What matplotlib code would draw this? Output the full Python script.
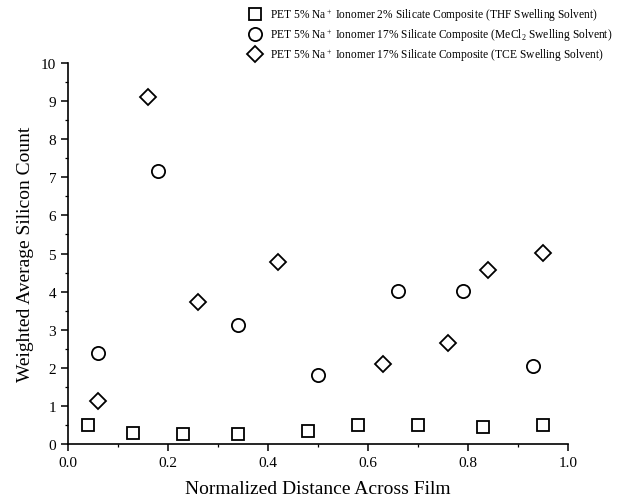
import matplotlib
matplotlib.use("Agg")
import matplotlib.pyplot as plt
from matplotlib.ticker import MultipleLocator

plt.rcParams['font.family'] = ['Liberation Serif', 'DejaVu Serif']
plt.rcParams['mathtext.fontset'] = 'custom'
plt.rcParams['mathtext.rm'] = 'Liberation Serif'
plt.rcParams['mathtext.it'] = 'Liberation Serif:italic'

thf_x = [0.04, 0.13, 0.23, 0.34, 0.48, 0.58, 0.70, 0.83, 0.95]
thf_y = [0.51, 0.29, 0.27, 0.25, 0.35, 0.50, 0.50, 0.44, 0.50]
mecl_x = [0.06, 0.18, 0.34, 0.50, 0.66, 0.79, 0.93]
mecl_y = [2.39, 7.16, 3.13, 1.82, 4.01, 4.01, 2.06]
tce_x = [0.06, 0.16, 0.26, 0.42, 0.63, 0.76, 0.84, 0.95]
tce_y = [1.14, 9.11, 3.72, 4.77, 2.10, 2.64, 4.57, 5.01]

labels = [
    "PET 5% Na$^+$ Ionomer 2% Silicate Composite (THF Swelling Solvent)",
    "PET 5% Na$^+$ Ionomer 17% Silicate Composite (MeCl$_2$ Swelling Solvent)",
    "PET 5% Na$^+$ Ionomer 17% Silicate Composite (TCE Swelling Solvent)",
]

fig = plt.figure(figsize=(6.18, 5.02), dpi=100)
ax = fig.add_axes([0.110, 0.1135, 0.809, 0.759])

kw = dict(linestyle='none', markerfacecolor='white', markeredgecolor='black',
          markeredgewidth=1.3, clip_on=False)
h1, = ax.plot(thf_x, thf_y, marker='s', markersize=8.5, **kw)
h2, = ax.plot(mecl_x, mecl_y, marker='o', markersize=9.5, **kw)
h3, = ax.plot(tce_x, tce_y, marker='D', markersize=8, **kw)

ax.set_xlim(0, 1.0)
ax.set_ylim(0, 10)
ax.xaxis.set_minor_locator(MultipleLocator(0.1))
ax.yaxis.set_major_locator(MultipleLocator(1))
ax.yaxis.set_minor_locator(MultipleLocator(0.5))
ax.set_xticks([0, 0.2, 0.4, 0.6, 0.8, 1.0])
ax.set_xticklabels(['0.0', '0.2', '0.4', '0.6', '0.8', '1.0'])
for s in ['top', 'right']:
    ax.spines[s].set_visible(False)
for s in ['left', 'bottom']:
    ax.spines[s].set_linewidth(1.2)
ax.tick_params(which='major', direction='out', length=5, width=1.1, labelsize=11)
ax.tick_params(which='minor', direction='out', length=2.5, width=0.9)

ax.set_xlabel('Normalized Distance Across Film', fontsize=14, labelpad=8)
ax.set_ylabel('Weighted Average Silicon Count', fontsize=14, labelpad=5)

fig.legend([h1, h2, h3], labels, loc='upper left', bbox_to_anchor=(0.403, 0.985),
           frameon=False, fontsize=8.3, handletextpad=0.8, labelspacing=0.25,
           borderaxespad=0.0, borderpad=0.0, handlelength=1.0)

fig.savefig('out.png', dpi=100)
